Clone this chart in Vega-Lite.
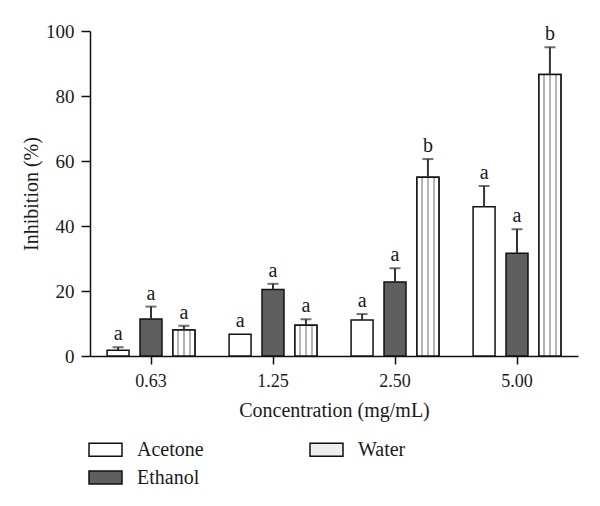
{
  "$schema": "https://vega.github.io/schema/vega-lite/v6.json",
  "width": 488,
  "height": 325,
  "autosize": "none",
  "padding": {"left": 90, "top": 31, "right": 22, "bottom": 150},
  "background": "white",
  "config": {
    "view": {"stroke": null},
    "font": "Liberation Serif",
    "axis": {"labelFont": "Liberation Serif", "titleFont": "Liberation Serif", "labelColor": "#1a1a1a", "titleColor": "#1a1a1a", "titleFontWeight": "normal", "domainColor": "#111", "tickColor": "#111", "domainWidth": 1.5, "tickWidth": 1.5, "grid": false},
    "legend": {"labelFont": "Liberation Serif"}
  },
  "data": {
    "values": [
      {"conc": "0.63", "solvent": "Acetone", "value": 1.8, "err": 2.7, "letter": "a"},
      {"conc": "0.63", "solvent": "Ethanol", "value": 11.4, "err": 15.2, "letter": "a"},
      {"conc": "0.63", "solvent": "Water", "value": 8.0, "err": 9.3, "letter": "a"},
      {"conc": "1.25", "solvent": "Acetone", "value": 6.7, "err": 6.7, "letter": "a"},
      {"conc": "1.25", "solvent": "Ethanol", "value": 20.5, "err": 22.2, "letter": "a"},
      {"conc": "1.25", "solvent": "Water", "value": 9.5, "err": 11.3, "letter": "a"},
      {"conc": "2.50", "solvent": "Acetone", "value": 11.1, "err": 12.9, "letter": "a"},
      {"conc": "2.50", "solvent": "Ethanol", "value": 22.8, "err": 27.0, "letter": "a"},
      {"conc": "2.50", "solvent": "Water", "value": 55.0, "err": 60.6, "letter": "b"},
      {"conc": "5.00", "solvent": "Acetone", "value": 45.9, "err": 52.3, "letter": "a"},
      {"conc": "5.00", "solvent": "Ethanol", "value": 31.6, "err": 39.0, "letter": "a"},
      {"conc": "5.00", "solvent": "Water", "value": 86.6, "err": 95.0, "letter": "b"}
    ]
  },
  "encoding": {
    "x": {
      "field": "conc", "type": "nominal",
      "scale": {"paddingInner": 0.19, "paddingOuter": 0.095},
      "axis": {"title": "Concentration (mg/mL)", "labelAngle": 0, "labelFontSize": 18, "titleFontSize": 20, "tickSize": 8, "labelPadding": 8, "titlePadding": 10}
    },
    "xOffset": {
      "field": "solvent", "type": "nominal",
      "sort": ["Acetone", "Ethanol", "Water"],
      "scale": {"paddingInner": 0.333, "paddingOuter": 0.167}
    }
  },
  "layer": [
    {
      "mark": {"type": "bar", "stroke": "#111", "strokeWidth": 1.5},
      "encoding": {
        "y": {
          "field": "value", "type": "quantitative",
          "scale": {"domain": [0, 100], "nice": false},
          "axis": {"title": "Inhibition (%)", "values": [0, 20, 40, 60, 80, 100], "labelFontSize": 19, "titleFontSize": 20, "tickSize": 9, "labelPadding": 7, "titlePadding": 4}
        },
        "fill": {
          "field": "solvent", "type": "nominal",
          "scale": {
            "domain": ["Acetone", "Water", "Ethanol"],
            "range": ["#ffffff", "#eeeeee", "#5f5f5f"]
          },
          "legend": {
            "title": null,
            "orient": "none",
            "legendX": -2,
            "legendY": 401,
            "direction": "horizontal",
            "columns": 2,
            "columnPadding": 103,
            "rowPadding": -13,
            "symbolType": "M-1,-0.4H1V0.4H-1Z",
            "symbolSize": 1089,
            "symbolStrokeColor": "#111",
            "symbolStrokeWidth": 1.5,
            "symbolOpacity": 1,
            "labelFontSize": 20,
            "labelColor": "#1a1a1a",
            "labelOffset": 14
          }
        }
      }
    },
    {
      "transform": [{"filter": "datum.solvent === 'Water'"}],
      "mark": {"type": "bar", "stroke": "#111", "strokeWidth": 1.5,
        "fill": {"gradient": "linear", "x1": 0, "y1": 0, "x2": 1, "y2": 0, "stops": [
          {"offset": 0, "color": "#ffffff"},
          {"offset": 0.2, "color": "#ffffff"},
          {"offset": 0.2, "color": "#b5b5b5"},
          {"offset": 0.26, "color": "#b5b5b5"},
          {"offset": 0.26, "color": "#ffffff"},
          {"offset": 0.47, "color": "#ffffff"},
          {"offset": 0.47, "color": "#b5b5b5"},
          {"offset": 0.53, "color": "#b5b5b5"},
          {"offset": 0.53, "color": "#ffffff"},
          {"offset": 0.74, "color": "#ffffff"},
          {"offset": 0.74, "color": "#b5b5b5"},
          {"offset": 0.8, "color": "#b5b5b5"},
          {"offset": 0.8, "color": "#ffffff"},
          {"offset": 1, "color": "#ffffff"}
        ]}
      },
      "encoding": {
        "y": {"field": "value", "type": "quantitative"}
      }
    },
    {
      "transform": [{"filter": "datum.err > datum.value"}],
      "mark": {"type": "rule", "color": "#333", "strokeWidth": 2},
      "encoding": {
        "y": {"field": "value", "type": "quantitative"},
        "y2": {"field": "err"}
      }
    },
    {
      "transform": [{"filter": "datum.err > datum.value"}],
      "mark": {"type": "tick", "orient": "horizontal", "color": "#333", "thickness": 2, "size": 11},
      "encoding": {
        "y": {"field": "err", "type": "quantitative"}
      }
    },
    {
      "mark": {"type": "text", "baseline": "alphabetic", "dy": -7, "fontSize": 20, "color": "#1a1a1a", "font": "Liberation Serif"},
      "encoding": {
        "y": {"field": "err", "type": "quantitative"},
        "text": {"field": "letter"}
      }
    }
  ]
}
